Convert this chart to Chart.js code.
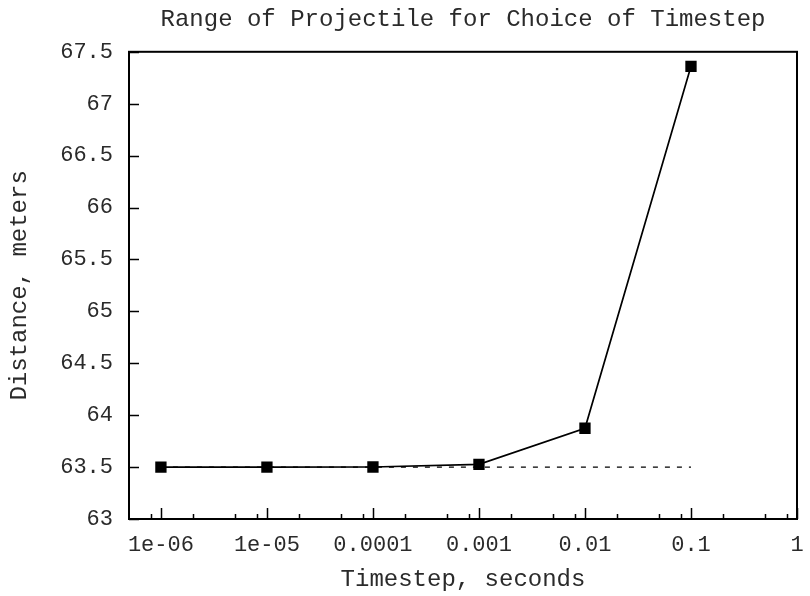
<!DOCTYPE html>
<html>
<head>
<meta charset="utf-8">
<script src="https://cdn.jsdelivr.net/npm/chart.js@4/dist/chart.umd.min.js"></script>
<style>
  html, body { margin: 0; padding: 0; background: #fff; }
  #wrap { width: 810px; height: 596px; }
</style>
</head>
<body>
<div id="wrap"><canvas id="c" width="810" height="596"></canvas></div>
<script>
// ---- data ----
const timesteps = [1e-6, 1e-5, 1e-4, 1e-3, 1e-2, 1e-1];
const distances = [63.50, 63.50, 63.501, 63.526, 63.874, 67.36];
const referenceDistance = 63.5;
const xTickValues = [1e-6, 1e-5, 1e-4, 1e-3, 1e-2, 1e-1, 1];
const xTickLabels = ['1e-06', '1e-05', '0.0001', '0.001', '0.01', '0.1', '1'];
const xMinorMultipliers = [2, 5, 8];
const yMin = 63, yMax = 67.5, yStep = 0.5;

const FONT = "'Liberation Mono', 'DejaVu Sans Mono', monospace";
const FS = 22;      // tick labels
const FT = 24;      // titles
const TXT = '#2a2a2a';

const mainPoints = timesteps.map((t, i) => ({ x: t, y: distances[i] }));
const refPoints = [
  { x: timesteps[0], y: referenceDistance },
  { x: timesteps[timesteps.length - 1], y: referenceDistance }
];

const framePlugin = {
  id: 'frame',
  afterDraw(chart) {
    const { ctx, chartArea: a, scales } = chart;
    const xs = scales.x, ys = scales.y;
    ctx.save();
    ctx.strokeStyle = '#000';
    ctx.lineWidth = 1.5;
    ctx.beginPath();
    for (let v = yMin; v <= yMax + 1e-9; v += yStep) {
      const py = Math.round(ys.getPixelForValue(v)) + 0.5;
      ctx.moveTo(a.left, py);
      ctx.lineTo(a.left + 10, py);
    }
    xTickValues.forEach(v => {
      const px = Math.round(xs.getPixelForValue(v)) + 0.5;
      ctx.moveTo(px, a.bottom);
      ctx.lineTo(px, a.bottom - 11);
    });
    const decades = [1e-7, 1e-6, 1e-5, 1e-4, 1e-3, 1e-2, 1e-1];
    decades.forEach(d => {
      xMinorMultipliers.forEach(m => {
        const v = d * m;
        if (v > xs.min && v < xs.max) {
          const px = Math.round(xs.getPixelForValue(v)) + 0.5;
          ctx.moveTo(px, a.bottom);
          ctx.lineTo(px, a.bottom - 5);
        }
      });
    });
    ctx.stroke();
    ctx.lineWidth = 2;
    ctx.strokeRect(a.left, a.top, a.right - a.left, a.bottom - a.top);
    ctx.restore();
  }
};

new Chart(document.getElementById('c'), {
  type: 'line',
  data: {
    datasets: [
      {
        label: 'range',
        data: mainPoints,
        borderColor: '#000',
        backgroundColor: '#000',
        borderWidth: 1.7,
        pointStyle: 'rect',
        pointRadius: 8,
        pointHoverRadius: 8,
        pointBorderWidth: 0,
        tension: 0,
        order: 1
      },
      {
        label: 'reference',
        data: refPoints,
        borderColor: '#000',
        borderWidth: 1.3,
        borderDash: [5, 7],
        pointRadius: 0,
        tension: 0,
        order: 2
      }
    ]
  },
  options: {
    responsive: false,
    animation: false,
    events: [],
    layout: { padding: { top: 0, right: 13, bottom: 2, left: 0 } },
    plugins: {
      legend: { display: false },
      tooltip: { enabled: false },
      title: {
        display: true,
        fullSize: false,
        text: 'Range of Projectile for Choice of Timestep',
        color: TXT,
        font: { family: FONT, size: FT, weight: 'normal' },
        padding: { top: 5, bottom: 18 }
      }
    },
    scales: {
      x: {
        type: 'logarithmic',
        min: 5e-7,
        max: 1,
        afterBuildTicks(scale) {
          scale.ticks = xTickValues.map(v => ({ value: v }));
        },
        afterFit(scale) {
          scale.height = 75;
          scale.paddingLeft = 0;
          scale.paddingRight = 0;
        },
        ticks: {
          color: TXT,
          font: { family: FONT, size: FS },
          padding: 13,
          maxRotation: 0,
          autoSkip: false,
          callback(value) {
            const i = xTickValues.findIndex(v => Math.abs(Math.log10(v) - Math.log10(value)) < 1e-6);
            return i >= 0 ? xTickLabels[i] : '';
          }
        },
        grid: { display: false, drawTicks: false },
        border: { display: false },
        title: {
          display: true,
          text: 'Timestep, seconds',
          color: TXT,
          font: { family: FONT, size: FT },
          padding: { top: 0, bottom: 0 }
        }
      },
      y: {
        type: 'linear',
        min: yMin,
        max: yMax,
        afterFit(scale) { scale.width = 129; },
        ticks: {
          stepSize: yStep,
          color: TXT,
          font: { family: FONT, size: FS },
          padding: 16,
          callback(value) { return String(Math.round(value * 10) / 10); }
        },
        grid: { display: false, drawTicks: false },
        border: { display: false },
        title: {
          display: true,
          text: 'Distance, meters',
          color: TXT,
          font: { family: FONT, size: FT },
          padding: { top: 5, bottom: 0 }
        }
      }
    }
  },
  plugins: [framePlugin]
});
</script>
</body>
</html>
